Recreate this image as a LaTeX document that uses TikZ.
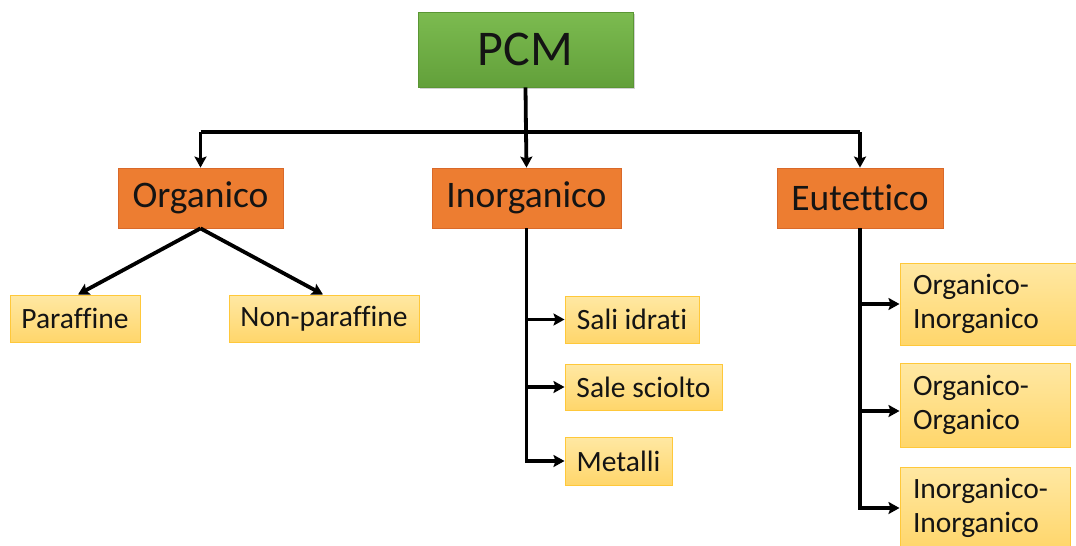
\documentclass[tikz,border=0pt]{standalone}
\usepackage{fontspec}
\setmainfont[Ligatures=NoCommon]{Carlito}
\usetikzlibrary{arrows.meta,shadows}
\definecolor{pcmtop}{HTML}{7CBB50}
\definecolor{pcmbot}{HTML}{62A03A}
\definecolor{pcmdraw}{HTML}{5A9634}
\definecolor{orfill}{HTML}{ED7D31}
\definecolor{ordraw}{HTML}{D9692A}
\definecolor{yetop}{HTML}{FFE8A3}
\definecolor{yebot}{HTML}{FFD66B}
\definecolor{yedraw}{HTML}{FFC83A}
\definecolor{txt}{HTML}{141414}
\begin{document}
\begin{tikzpicture}[x=1pt,y=-1pt,
  pcmbox/.style={draw=pcmdraw,line width=0.8pt,top color=pcmtop,bottom color=pcmbot,
    minimum width=215pt,minimum height=75pt,inner sep=0pt,font=\fontsize{50}{54}\selectfont,text=txt,
    drop shadow={shadow xshift=2pt,shadow yshift=-2pt,opacity=0.35}},
  catbox/.style={draw=ordraw,line width=0.8pt,fill=orfill,minimum height=60pt,inner sep=0pt,
    font=\fontsize{37.5}{40}\selectfont,text=txt},
  leafbox/.style={draw=yedraw,line width=1pt,top color=yetop,bottom color=yebot,inner sep=0pt,
    font=\fontsize{29.5}{34}\selectfont,text=txt},
  twobox/.style={leafbox,align=left,text width=144pt,inner xsep=13pt},
  conn/.style={line width=3.8pt,draw=black},
  arr/.style={conn,-{Stealth[length=11pt,width=12pt,inset=2pt]}}]
\clip (0,0) rectangle (1076,546);
\fill[white] (0,0) rectangle (1076,546);

\node[pcmbox] (pcm) at (525.5,49.5) {PCM};
\node[catbox,minimum width=165pt] (org) at (200.5,198) {Organico};
\node[catbox,minimum width=189pt] (inorg) at (526.5,198) {Inorganico};
\node[catbox,minimum width=166pt] (eut) at (860,198) {Eutettico};

\node[leafbox,minimum width=130pt,minimum height=47pt] (par) at (75,318.5) {Paraffine};
\node[leafbox,minimum width=190pt,minimum height=47pt] (nonpar) at (324,318.5) {Non-paraffine};

\node[leafbox,minimum width=134pt,minimum height=47pt] (sali) at (632,319.5) {Sali idrati};
\node[leafbox,minimum width=157pt,minimum height=46pt] (sale) at (643.5,387) {Sale sciolto};
\node[leafbox,minimum width=107pt,minimum height=48pt] (met) at (618.5,461) {Metalli};

\node[twobox,minimum width=180pt,minimum height=82pt,text width=154pt] (oi) at (990,304) {Organico-\\Inorganico};
\node[twobox,minimum width=170pt,minimum height=84pt] (oo) at (985,405) {Organico-\\Organico};
\node[twobox,minimum width=170pt,minimum height=82pt] (ii) at (985,508) {Inorganico-\\Inorganico};

\coordinate (j) at (526,132);
\coordinate (oow) at ([yshift=-6pt]oo.west);
\draw[conn] (pcm.south) -- (j);
\draw[conn] (org.north |- j) -- (eut.north |- j);
\draw[arr] (j) -- (inorg.north);
\draw[arr] (org.north |- j) -- (org.north);
\draw[arr] (eut.north |- j) -- (eut.north);

\draw[arr] (org.south) -- ([xshift=3pt]par.north);
\draw[arr] (org.south) -- ([xshift=-1pt]nonpar.north);

\draw[arr] (inorg.south) |- (met.west);
\draw[arr] (inorg.south |- sali.west) -- (sali.west);
\draw[arr] (inorg.south |- sale.west) -- (sale.west);

\draw[arr] (eut.south) |- (ii.west);
\draw[arr] (eut.south |- oi.west) -- (oi.west);
\draw[arr] (eut.south |- oow) -- (oow);
\end{tikzpicture}
\end{document}
